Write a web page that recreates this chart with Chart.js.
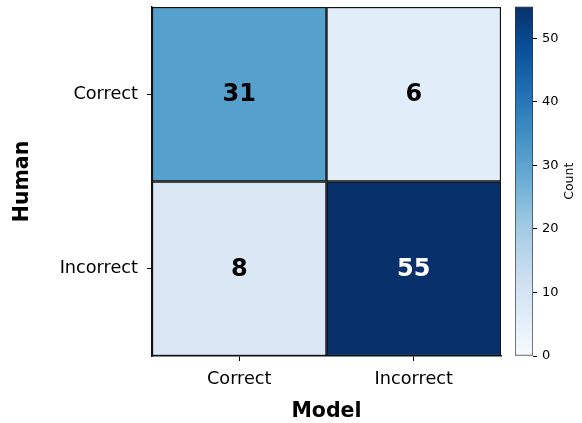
<!DOCTYPE html>
<html>
<head>
<meta charset="utf-8">
<script src="https://cdn.jsdelivr.net/npm/chart.js@4/dist/chart.umd.min.js"></script>
<style>
  html, body { margin: 0; padding: 0; background: #fff; }
  #wrap { position: relative; width: 582px; height: 423px; overflow: hidden; }
  #heat { position: absolute; left: 0; top: 0; }
  #cbar { position: absolute; left: 500px; top: 0; }
</style>
</head>
<body>
<div id="wrap">
  <canvas id="heat" width="504" height="423"></canvas>
  <canvas id="cbar" width="82" height="423"></canvas>
</div>
<script>
// Confusion matrix: rows = Human judgement, columns = Model judgement
const modelLabels = ['Correct', 'Incorrect'];
const humanLabels = ['Correct', 'Incorrect'];
const counts = [
  [31, 6],   // Human: Correct
  [8, 55]    // Human: Incorrect
];
const colorbarTicks = [0, 10, 20, 30, 40, 50];
const colorbarMin = 0;
const colorbarMax = 55;

// Matplotlib "Blues" colormap anchor colours
const BLUES = ['#f7fbff', '#deebf7', '#c6dbef', '#9ecae1', '#6baed6',
               '#4292c6', '#2171b5', '#08519c', '#08306b'];

function hexToRgb(h) {
  return [parseInt(h.slice(1, 3), 16), parseInt(h.slice(3, 5), 16), parseInt(h.slice(5, 7), 16)];
}
function blues(t) {
  t = Math.max(0, Math.min(1, t));
  const pos = t * (BLUES.length - 1);
  const i = Math.min(Math.floor(pos), BLUES.length - 2);
  const f = pos - i;
  const a = hexToRgb(BLUES[i]), b = hexToRgb(BLUES[i + 1]);
  const c = a.map((v, k) => Math.round(v + (b[k] - v) * f));
  return `rgb(${c[0]},${c[1]},${c[2]})`;
}
function norm(v) { return (v - colorbarMin) / (colorbarMax - colorbarMin); }

Chart.defaults.font.family = "'DejaVu Sans', sans-serif";
Chart.defaults.color = '#000';

// Each human row is a floating bar band on a 0..2 linear axis (top row = [1, 2])
const nRows = humanLabels.length;
const rowBand = i => [nRows - 1 - i, nRows - i];
const rowCenter = i => nRows - i - 0.5;

const datasets = humanLabels.map((h, i) => ({
  label: h,
  data: modelLabels.map(() => rowBand(i)),
  backgroundColor: counts[i].map(v => blues(norm(v))),
  borderColor: '#111',
  borderWidth: 1.5,
  borderSkipped: false,
  grouped: false,
  categoryPercentage: 1,
  barPercentage: 1
}));

const cellText = {
  id: 'cellText',
  afterDatasetsDraw(chart) {
    const { ctx, scales } = chart;
    ctx.save();
    ctx.font = "bold 24px 'DejaVu Sans'";
    ctx.textAlign = 'center';
    ctx.textBaseline = 'middle';
    counts.forEach((row, i) => {
      row.forEach((v, j) => {
        const x = scales.x.getPixelForValue(j);
        const y = scales.y.getPixelForValue(rowCenter(i));
        ctx.fillStyle = norm(v) > 0.7 ? '#fff' : '#000';
        ctx.fillText(String(v), x, y + 1);
      });
    });
    ctx.restore();
  }
};

new Chart(document.getElementById('heat'), {
  type: 'bar',
  data: { labels: modelLabels, datasets },
  options: {
    responsive: false,
    animation: false,
    events: [],
    layout: { padding: { top: 7, right: 3, left: 0, bottom: 0 } },
    plugins: { legend: { display: false }, tooltip: { enabled: false } },
    scales: {
      x: {
        type: 'category',
        offset: true,
        grid: { offset: false, drawOnChartArea: false, tickLength: 5, color: '#000', lineWidth: 1 },
        border: { display: true, color: '#111', width: 1.5 },
        ticks: { font: { size: 17.7 }, padding: 8, color: '#000' },
        title: { display: true, text: 'Model', font: { size: 20.5, weight: 'bold' }, padding: { top: 0, bottom: -1 }, color: '#000' },
        afterFit(scale) { scale.height = 67; scale.paddingLeft = 0; scale.paddingRight = 0; }
      },
      y: {
        type: 'linear',
        min: 0,
        max: nRows,
        afterBuildTicks(scale) {
          scale.ticks = humanLabels.map((_, i) => ({ value: rowCenter(i) }));
        },
        grid: { drawOnChartArea: false, tickLength: 5, color: '#000', lineWidth: 1 },
        border: { display: true, color: '#111', width: 1.5 },
        ticks: {
          font: { size: 17.7 },
          padding: 9,
          color: '#000',
          callback(value) {
            const i = humanLabels.findIndex((_, k) => Math.abs(rowCenter(k) - value) < 1e-6);
            return i >= 0 ? humanLabels[i] : '';
          }
        },
        title: { display: true, text: 'Human', font: { size: 20.5, weight: 'bold' }, padding: { top: 10.5, bottom: 0 }, color: '#000' },
        afterFit(scale) { scale.width = 152; scale.paddingTop = 0; scale.paddingBottom = 0; }
      }
    }
  },
  plugins: [cellText]
});

// Colour bar: one bar spanning the full value range, filled with the colormap gradient
const countLabel = {
  id: 'countLabel',
  afterDraw(chart) {
    const { ctx, chartArea } = chart;
    ctx.save();
    ctx.font = "12.5px 'DejaVu Sans'";
    ctx.fillStyle = '#000';
    ctx.textAlign = 'center';
    ctx.textBaseline = 'middle';
    ctx.translate(chartArea.right + 37, (chartArea.top + chartArea.bottom) / 2);
    ctx.rotate(-Math.PI / 2);
    ctx.fillText('Count', 0, 0);
    ctx.restore();
  }
};

new Chart(document.getElementById('cbar'), {
  type: 'bar',
  data: {
    labels: ['Count'],
    datasets: [{
      data: [[colorbarMin, colorbarMax]],
      backgroundColor(ctx) {
        const area = ctx.chart.chartArea;
        if (!area) return BLUES[0];
        const g = ctx.chart.ctx.createLinearGradient(0, area.bottom, 0, area.top);
        for (let k = 0; k <= 40; k++) g.addColorStop(k / 40, blues(k / 40));
        return g;
      },
      borderColor: '#333',
      borderWidth: 1,
      borderSkipped: false,
      categoryPercentage: 1,
      barPercentage: 1
    }]
  },
  options: {
    responsive: false,
    animation: false,
    events: [],
    layout: { padding: { top: 6.5, right: 0, left: 15, bottom: 67 } },
    plugins: { legend: { display: false }, tooltip: { enabled: false } },
    scales: {
      x: { display: false },
      y: {
        position: 'right',
        min: colorbarMin,
        max: colorbarMax,
        afterBuildTicks(scale) {
          scale.ticks = colorbarTicks.map(v => ({ value: v }));
        },
        grid: { drawOnChartArea: false, tickLength: 4, color: '#000', lineWidth: 1 },
        border: { display: false },
        ticks: { font: { size: 13 }, padding: 5, color: '#000' },
        afterFit(scale) { scale.width = 49; scale.paddingTop = 0; scale.paddingBottom = 0; }
      }
    }
  },
  plugins: [countLabel]
});
</script>
</body>
</html>
